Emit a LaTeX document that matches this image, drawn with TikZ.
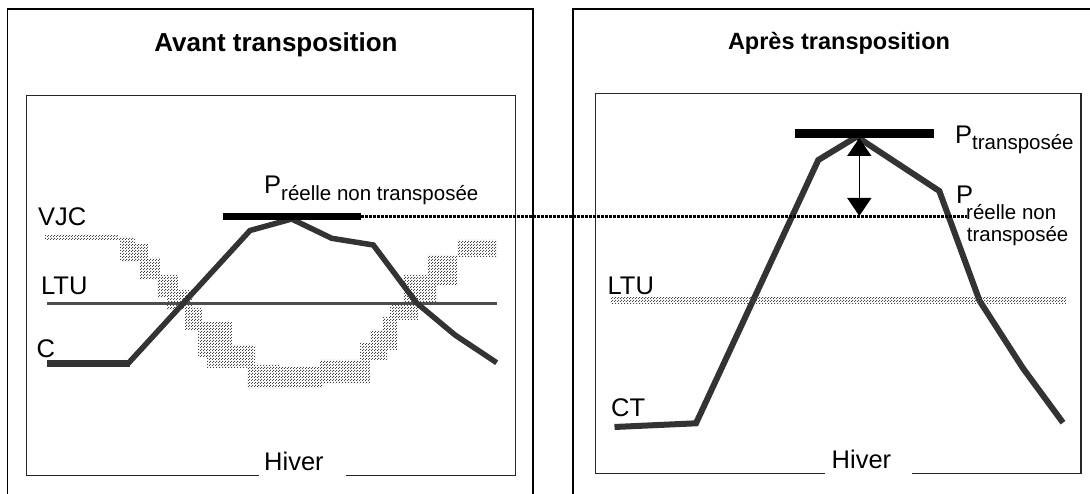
\documentclass[tikz,border=0pt]{standalone}
\usepackage{fontspec}
\setmainfont{Liberation Sans}
\usetikzlibrary{arrows.meta,patterns}
\definecolor{curvecol}{HTML}{333333}
\definecolor{ltucol}{HTML}{4D4D4D}
\definecolor{dotcol}{HTML}{444444}
\pgfdeclarepatternformonly{stipple}{\pgfqpoint{0pt}{0pt}}{\pgfqpoint{2.6pt}{2.6pt}}{\pgfqpoint{2.6pt}{2.6pt}}{%
  \pgfpathrectangle{\pgfqpoint{0pt}{0pt}}{\pgfqpoint{1.1pt}{1.1pt}}%
  \pgfpathrectangle{\pgfqpoint{1.3pt}{1.3pt}}{\pgfqpoint{1.1pt}{1.1pt}}%
  \pgfusepath{fill}}
\newcommand\mainsz{\fontsize{25.5pt}{30pt}\selectfont}
\newcommand\subsz{\fontsize{20.5pt}{22pt}\selectfont}
\begin{document}
\begin{tikzpicture}[x=1pt,y=-1pt,
  lbl/.style={inner sep=0pt, anchor=base west, font=\mainsz},
  subl/.style={inner sep=0pt, anchor=base west, font=\subsz},
  ttl/.style={inner sep=0pt, anchor=base, font=\bfseries\fontsize{26pt}{30pt}\selectfont},
  ttlb/.style={inner sep=0pt, anchor=base, font=\bfseries\fontsize{23.5pt}{28pt}\selectfont},
  gapbox/.style={fill=white, inner sep=0pt, anchor=north west},
  outerbox/.style={draw=black, line width=1.8pt},
  innerbox/.style={draw=black!85, line width=1.4pt},
  curve/.style={draw=curvecol, line width=5.5pt, line join=miter, line cap=butt},
  flatseg/.style={draw=curvecol, line width=7.5pt, line cap=butt},
  bar/.style={draw=black, line width=7.5pt, line cap=butt},
  ltuline/.style={draw=ltucol, line width=3.5pt},
  band/.style={pattern=stipple, pattern color=dotcol},
  dotline/.style={draw=black, line width=2.6pt, dash pattern=on 2.6pt off 1.4pt},
  arr/.style={draw=black, line width=1.3pt, {Triangle[width=24pt,length=18pt]}-{Triangle[width=24pt,length=18pt]}}
]
\useasboundingbox (0,0) rectangle (1090,494);
\fill[white] (0,0) rectangle (1090,494);

% outer frames
\draw[outerbox] (7.5,500) -- (7.5,9.3) -- (533.3,9.3) -- (533.3,500);
\draw[outerbox] (573,500) -- (573,9.3) -- (1100,9.3);
% inner frames
\draw[innerbox] (26.5,95.7) rectangle (515.5,475.7);
\draw[innerbox] (595.5,93.3) rectangle (1081,473.3);

% titles
\node[ttl] (t1) at (276,51.7) {Avant transposition};
\node[ttlb] (t2) at (839,50) {Après transposition};

% ---------- left panel ----------
% VJC stippled band
\path[band] (45,235) -- (118,235) -- (118,237) -- (135,237) -- (135,244) -- (148,244) -- (148,258)
  -- (160,258) -- (160,275) -- (178,275) -- (178,290) -- (192,290) -- (192,308) -- (202,308)
  -- (202,322) -- (232,322) -- (232,345) -- (255,345) -- (255,365) -- (280,365) -- (280,367)
  -- (320,367) -- (320,360) -- (360,360) -- (360,343) -- (370,343) -- (370,330) -- (383,330)
  -- (383,317) -- (390,317) -- (390,303) -- (403,303) -- (403,275) -- (427,275) -- (427,255)
  -- (457,255) -- (457,240) -- (497,240)
  -- (497,257) -- (457,257) -- (457,285) -- (437,285) -- (437,302) -- (418,302) -- (418,320)
  -- (397,320) -- (397,350) -- (387,350) -- (387,360) -- (370,360) -- (370,383) -- (323,383)
  -- (323,388) -- (247,388) -- (247,368) -- (207,368) -- (207,357) -- (198,357) -- (198,330)
  -- (185,330) -- (185,310) -- (167,310) -- (167,298) -- (157,298) -- (157,280) -- (140,280)
  -- (140,262) -- (120,262) -- (120,240) -- (45,240) -- cycle;

% LTU line
\draw[ltuline] (47,303.3) -- (497,303.3);

% consumption curve C
\draw[curve] (128.3,363.3) -- (250,230.5) -- (291.7,219) -- (331.7,238.3) -- (373.3,245)
  -- (416.7,303) -- (455,335) -- (496.7,362.7);
\draw[flatseg] (47.3,363.3) -- (129.5,363.3);

% bar P reelle
\coordinate (barLw) at (223.3,216.7);
\coordinate (barLe) at (361,216.7);
\draw[bar] (barLw) -- (barLe);

% labels
\node[lbl] (vjc) at (38,226) {VJC};
\node[lbl] (ltu1) at (41,295) {LTU};
\node[lbl] (c1) at (36.5,357.3) {C};
\node[lbl] (p1) at (264,193.3) {P\raisebox{-7.5pt}{\subsz réelle non transposée}};
\node[gapbox, minimum width=87pt, minimum height=26pt] (g1) at (259,452) {};
\node[lbl] (h1) at (264,470) {Hiver};

% ---------- right panel ----------
\draw[curve, line width=6pt] (614.5,427) -- (696,423.3) -- (818.3,160) -- (856.7,136.7)
  -- (939.3,191) -- (979.5,300.7) -- (1023,368.3) -- (1063,422.7);
\path[band] (611,297.5) rectangle (1066,303.5);

\coordinate (barRw) at (795,133.3);
\coordinate (barRe) at (934,133.3);
\draw[bar, line width=8.5pt] (barRw) -- (barRe);

% dotted reference line
\coordinate (dotEnd) at (966.7,216.7);
\draw[dotline] (barLe) -- (dotEnd);

% double arrow
\coordinate (arrT) at (859.3,138);
\coordinate (arrB) at (859.3,216);
\draw[arr] (arrT) -- (arrB);

\node[lbl] (ltu2) at (607.5,294.3) {LTU};
\node[lbl] (ct) at (611,416) {CT};
\node[lbl] (p2) at (955,143.3) {P\raisebox{-6.7pt}{\subsz transposée}};
\node[lbl] (p3) at (956,203.3) {P};
\node[subl] (p3a) at (966,220) {réelle non};
\node[subl] (p3b) at (966.7,241.7) {transposée};
\node[gapbox, minimum width=87pt, minimum height=26pt] (g2) at (825,450) {};
\node[lbl] (h2) at (831.5,468.3) {Hiver};
\end{tikzpicture}
\end{document}
